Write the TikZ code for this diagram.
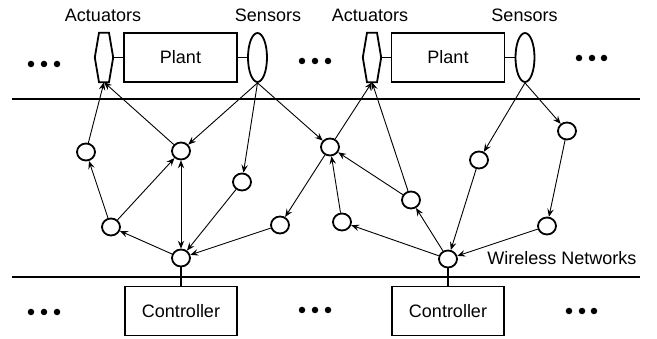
\documentclass[tikz,border=0pt]{standalone}
\usepackage{fontspec}
\setmainfont{Liberation Sans}
\usetikzlibrary{arrows.meta,shapes.geometric}
\begin{document}
\begin{tikzpicture}[x=1pt,y=-1pt,
  font=\fontsize{18}{20}\selectfont,
  wn/.style={draw,ellipse,minimum width=18pt,minimum height=17pt,inner sep=0pt,line width=1.8pt},
  sens/.style={draw,ellipse,minimum width=19pt,minimum height=49pt,inner sep=0pt,line width=1.8pt},
  act/.style={minimum width=18pt,minimum height=49pt,inner sep=0pt},
  boxnode/.style={draw,rectangle,line width=1.8pt,minimum width=112pt,minimum height=49pt,inner sep=0pt},
  arr/.style={-{Stealth[length=8pt,width=6.5pt,inset=3pt]},line width=0.9pt},
  darr/.style={{Stealth[length=8pt,width=6.5pt,inset=3pt]}-{Stealth[length=8pt,width=6.5pt,inset=3pt]},line width=0.9pt},
  link/.style={line width=1.8pt},
  dot/.style={circle,fill,inner sep=0pt,minimum size=6.5pt}
]
\useasboundingbox (0,0) rectangle (657,339);

% network boundary lines
\coordinate (tl) at (12,99); \coordinate (tr) at (640,99);
\coordinate (bl) at (12,277); \coordinate (br) at (640,277);
\draw[link] (tl) -- (tr);
\draw[link] (bl) -- (br);

% actuators (hexagons)
\node[act] (A1) at (104,57.5) {};
\node[act] (A2) at (372,57.5) {};
\foreach \a in {A1,A2}{
  \draw[line width=1.8pt] ([xshift=-5pt]\a.north) -- ([xshift=5pt]\a.north) -- (\a.east) -- ([xshift=5pt]\a.south) -- ([xshift=-5pt]\a.south) -- (\a.west) -- cycle;
}

% plants
\node[boxnode,minimum width=113pt] (P1) at (180.5,57.5) {Plant};
\node[boxnode,minimum width=113pt] (P2) at (448,57.5) {Plant};

% sensors
\node[sens] (S1) at (257.5,57.5) {};
\node[sens] (S2) at (525,57.5) {};

\draw[link] (A1.east) -- (P1.west);
\draw[link] (P1.east) -- (S1.west);
\draw[link] (A2.east) -- (P2.west);
\draw[link] (P2.east) -- (S2.west);

% labels
\node[anchor=base] (la1) at (103,22) {Actuators};
\node[anchor=base] (ls1) at (268,22) {Sensors};
\node[anchor=base] (la2) at (370,22) {Actuators};
\node[anchor=base] (ls2) at (524.5,22) {Sensors};
\node[anchor=base] (lw) at (562,265) {Wireless Networks};

% controllers
\node[boxnode] (C1) at (181,311) {Controller};
\node[boxnode] (C2) at (448,311) {Controller};

% wireless nodes
\node[wn] (n1) at (86,152) {};
\node[wn] (n2) at (181,151) {};
\node[wn] (n3) at (242,182) {};
\node[wn] (n4) at (111,227) {};
\node[wn] (n5) at (181,258) {};
\node[wn] (n6) at (280,225) {};
\node[wn] (n7) at (330,147) {};
\node[wn] (n9) at (342,222) {};
\node[wn] (n10) at (411,200) {};
\node[wn] (n11) at (479,160) {};
\node[wn] (n12) at (567,131) {};
\node[wn] (n13) at (547,226) {};
\node[wn] (n14) at (448,259) {};

% controller links
\draw[link] (n5) -- (C1.north);
\draw[link] (n14) -- (C2.north);

% arrows
\draw[arr] (n1) -- (A1.south);
\draw[arr] (n2) -- (A1.south);
\draw[arr] (S1.south) -- (n2);
\draw[arr] (S1.south) -- (n3);
\draw[arr] (S1.south) -- (n7);
\draw[arr] (n4) -- (n1);
\draw[arr] (n4) -- (n2);
\draw[darr] (n2) -- (n5);
\draw[arr] (n5) -- (n4);
\draw[arr] (n3) -- (n5);
\draw[arr] (n6) -- (n5);
\draw[arr] (n7) -- (n6);
\draw[arr] (n7) -- (A2.south);
\draw[arr] (n10) -- (A2.south);
\draw[arr] (n10) -- (n7);
\draw[arr] (n9) -- (n7);
\draw[arr] (n14) -- (n9);
\draw[arr] (n14) -- (n10);
\draw[arr] (n11) -- (n14);
\draw[arr] (n13) -- (n14);
\draw[arr] (S2.south) -- (n11);
\draw[arr] (S2.south) -- (n12);
\draw[arr] (n12) -- (n13);

% ellipsis dots
\foreach \x/\y [count=\i] in {31/64,44/64,57/64, 302/61,315/61,328/61, 579/58,592/58,604/58,
  31/312,44/312,57/312, 302/310,315/310,328/310, 569/311,582/311,594/311}{
  \node[dot] (d\i) at (\x,\y) {};
}
\end{tikzpicture}
\end{document}
